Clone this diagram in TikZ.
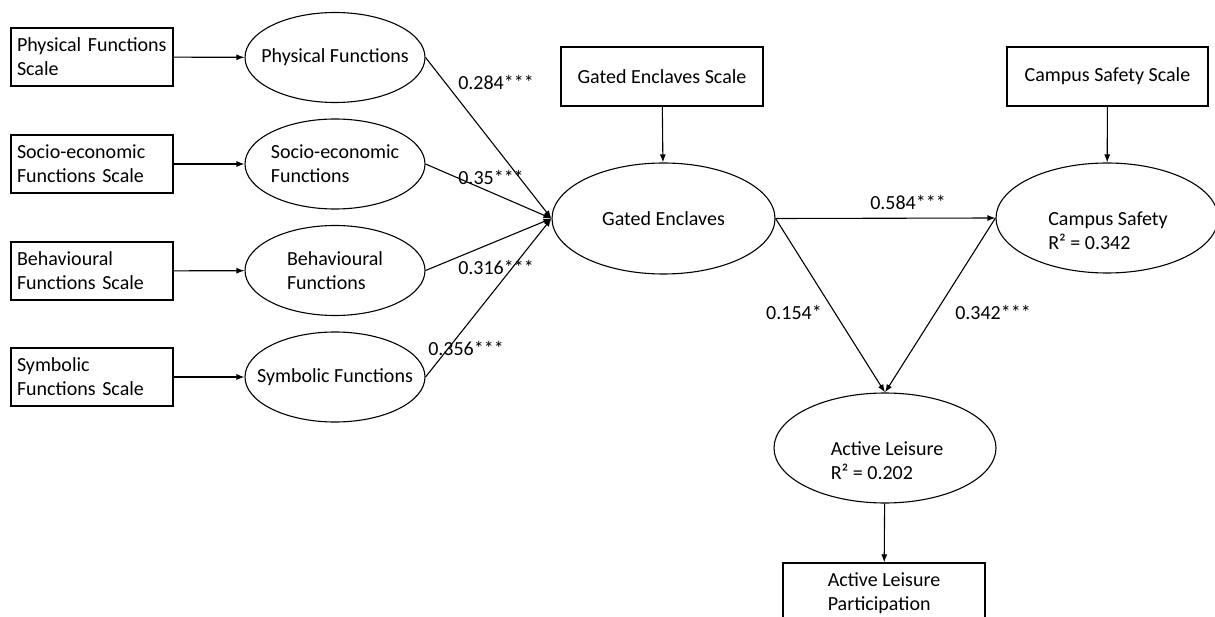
\documentclass[tikz,border=0pt]{standalone}
\usepackage{fontspec}
\setmainfont{Carlito}
\usetikzlibrary{shapes.geometric,arrows.meta}

\begin{document}
\begin{tikzpicture}[x=1pt, y=-1pt, line width=1.1pt, font=\fontsize{20}{24}\selectfont]
	\tikzset{scalebox/.style={draw, rectangle, minimum height=58pt, text width=150pt, inner xsep=6pt, align=left},
	         latent/.style={draw, ellipse, inner sep=0pt, minimum width=180pt, minimum height=90pt},
	         inside/.style={label={[align=left, inner sep=0pt]center:#1}},
	         link/.style={-{Latex[length=8pt,width=6pt]}},
	         coef/.style={inner sep=0pt}}
	\useasboundingbox (0,0) rectangle (1215,617);
	\clip (0,0) rectangle (1215,617);
	% measurement boxes
	\node[scalebox] (b1) at (92,57)  {Physical Functions\\Scale};
	\node[scalebox] (b2) at (92,164) {Socio-economic\\Functions Scale};
	\node[scalebox] (b3) at (92,271) {Behavioural\\Functions Scale};
	\node[scalebox] (b4) at (92,377) {Symbolic\\Functions Scale};
	\node[draw, minimum width=202pt, minimum height=59pt] (gs) at (662,76.5)  {Gated Enclaves Scale};
	\node[draw, minimum width=201pt, minimum height=59pt] (css) at (1107.5,76.5) {Campus Safety Scale};
	\node[draw, minimum width=202pt, minimum height=61pt, align=left] (alp) at (884,593.5) {Active Leisure\\Participation};
	% latent variables
	\node[latent, inside={Physical Functions}] (e1) at (335,57.5) {};
	\node[latent, inside={Socio-economic\\Functions}] (e2) at (335,164) {};
	\node[latent, inside={Behavioural\\Functions}] (e3) at (335,270.5) {};
	\node[latent, inside={Symbolic Functions}] (e4) at (335,377) {};
	\node[latent, minimum width=223pt, minimum height=111pt, inside={Gated Enclaves}] (ge) at (663.5,218.5) {};
	\node[latent, minimum width=222pt, minimum height=110pt] (cs) at (1107,218) {};
	\node[align=left, inner sep=0pt] (cstext) at (1108,231) {Campus Safety\\R² = 0.342};
	\node[latent, minimum width=222pt, minimum height=110pt] (al) at (885,448) {};
	\node[align=left, inner sep=0pt] (altext) at (887,461) {Active Leisure\\R² = 0.202};
	% paths
	\draw[link] (b1) -- (e1);
	\draw[link] (b2) -- (e2);
	\draw[link] (b3) -- (e3);
	\draw[link] (b4) -- (e4);
	\draw[link] (e1.east) -- (ge.west);
	\draw[link] (e2.east) -- (ge.west);
	\draw[link] (e3.east) -- (ge.west);
	\draw[link] (e4.east) -- (ge.west);
	\draw[link] (gs) -- (ge);
	\draw[link] (css) -- (cs);
	\draw[link] (ge.east) -- (cs.west);
	\draw[link] (ge.east) -- (al.north);
	\draw[link] (cs.west) -- (al.north);
	\draw[link] (al) -- (alp);
	% coefficients
	\node[coef] (w1) at (496,82)  {0.284***};
	\node[coef] (w2) at (491,177) {0.35***};
	\node[coef] (w3) at (496,267) {0.316***};
	\node[coef] (w4) at (466,348) {0.356***};
	\node[coef] (w5) at (908,202) {0.584***};
	\node[coef] (w6) at (794,312) {0.154*};
	\node[coef] (w7) at (993,312) {0.342***};
\end{tikzpicture}
\end{document}
